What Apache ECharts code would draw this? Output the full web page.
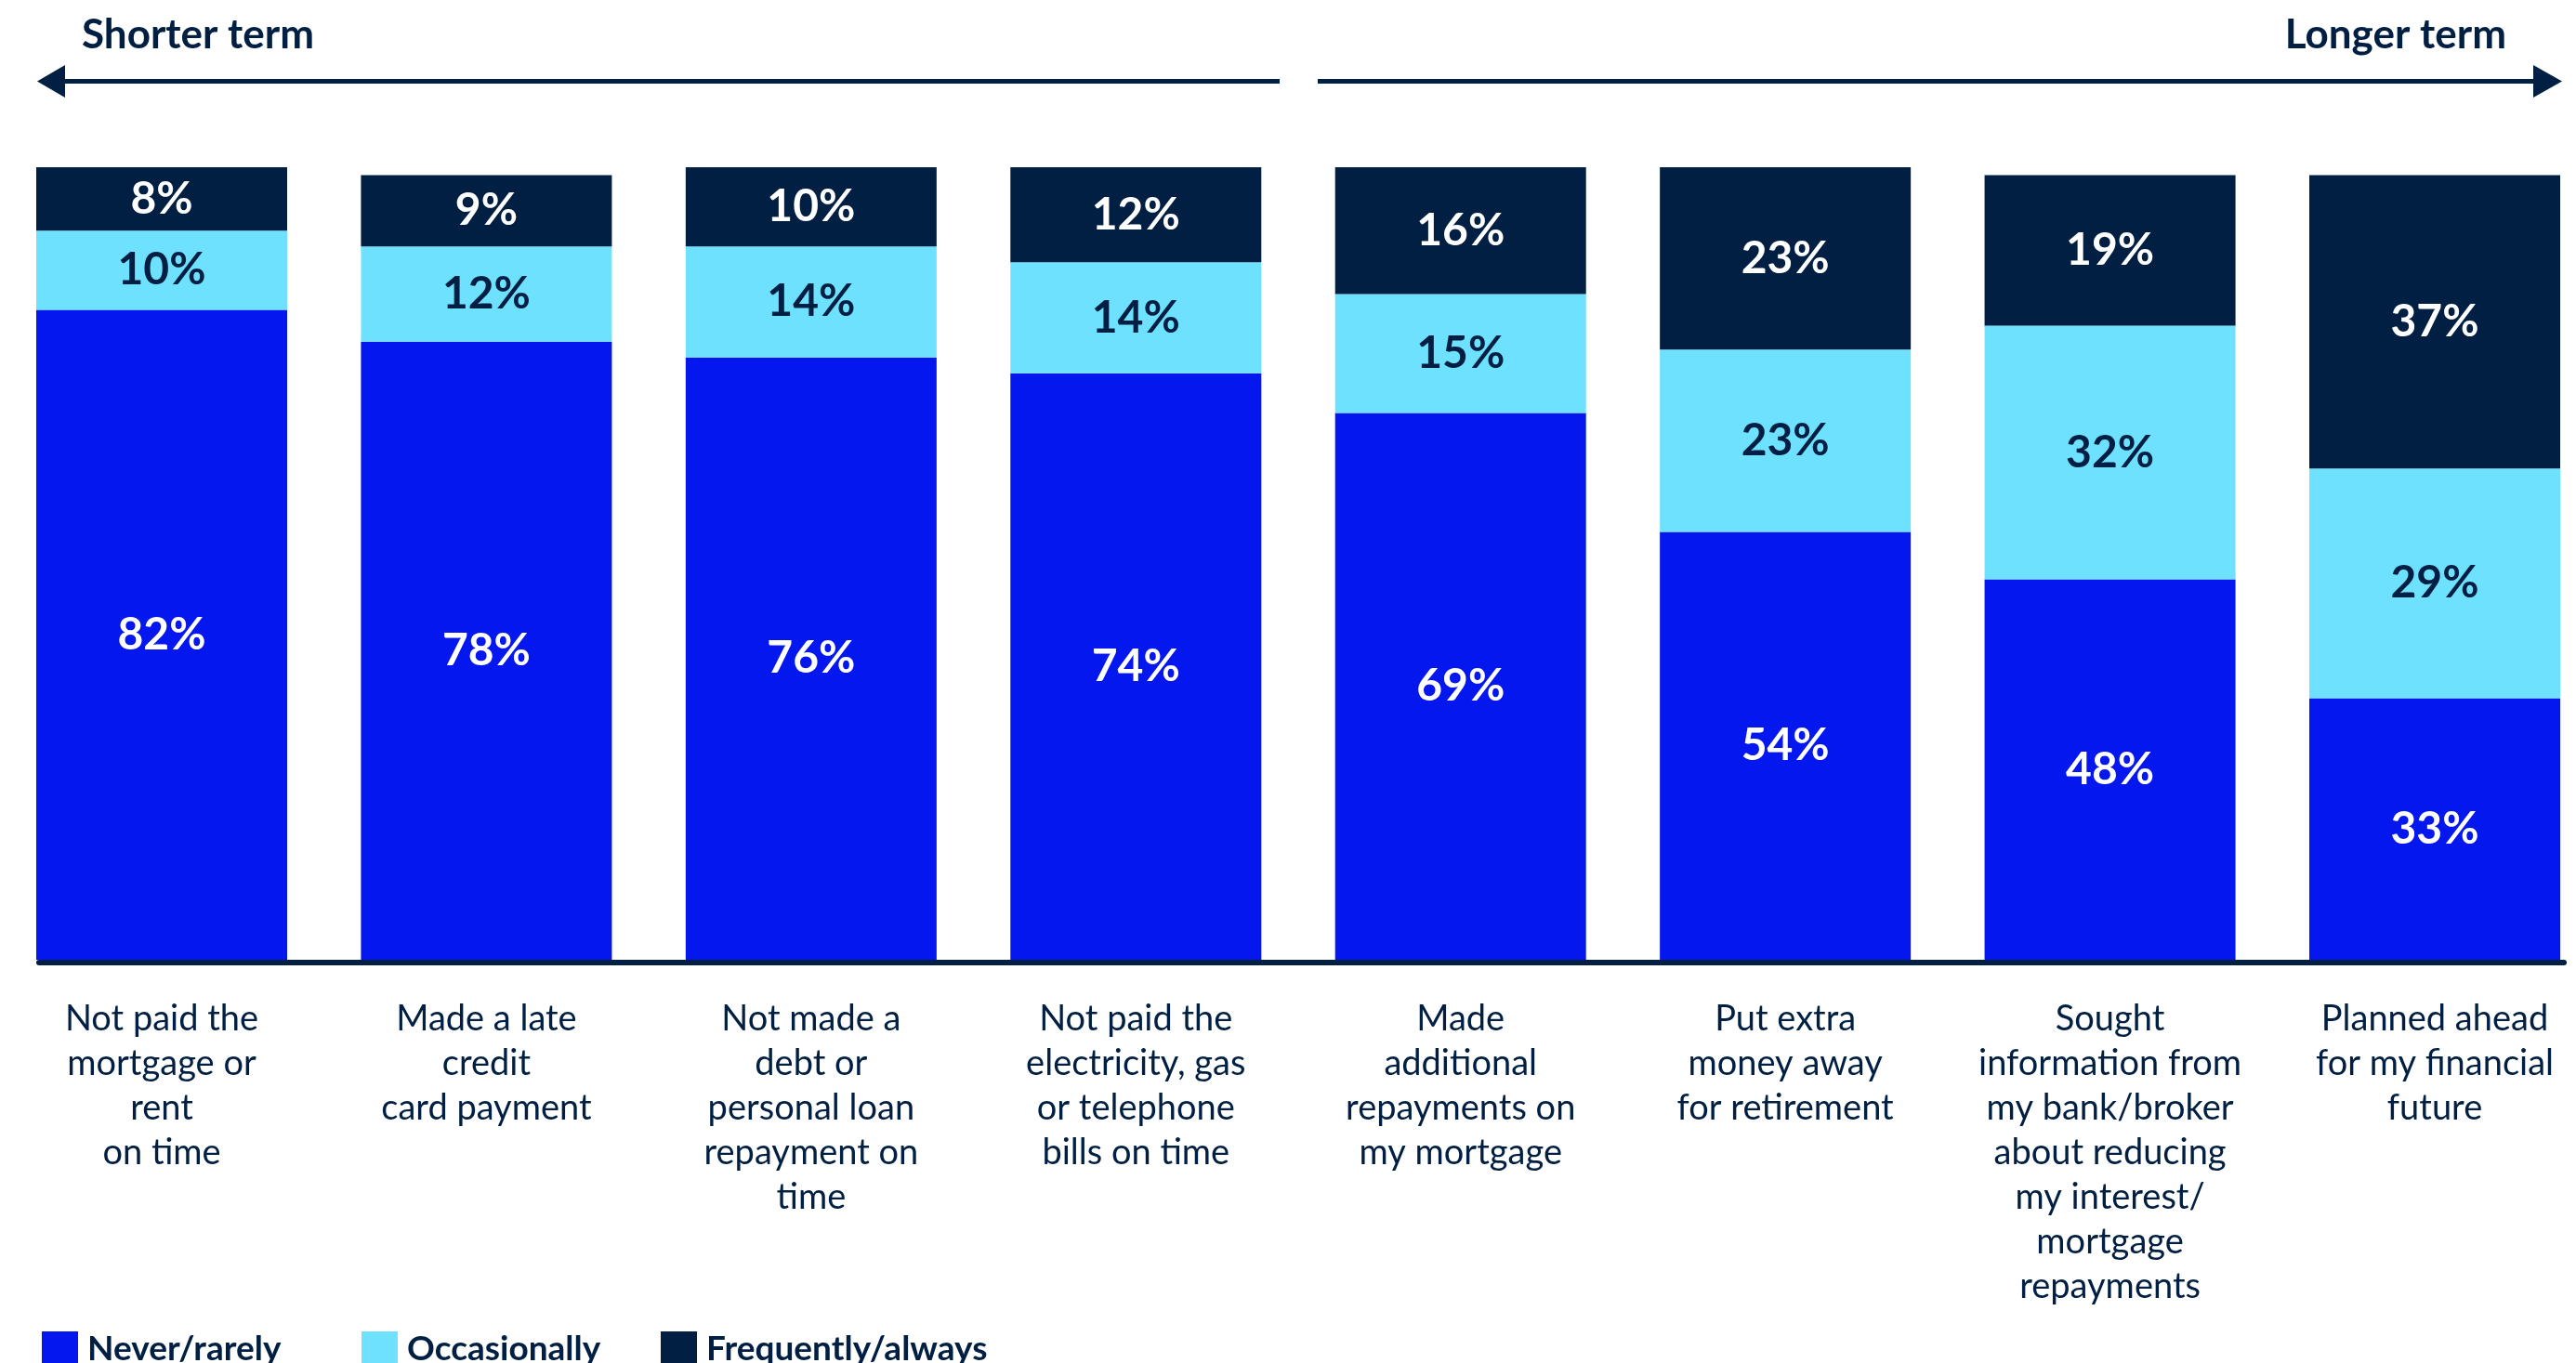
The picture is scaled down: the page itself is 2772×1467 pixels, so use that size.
<!DOCTYPE html>
<html>
<head>
<meta charset="utf-8">
<script src="https://cdn.jsdelivr.net/npm/echarts@6/dist/echarts.min.js"></script>
<style>
html,body{margin:0;padding:0;background:#fff;}
#chart{width:2772px;height:1467px;}
</style>
</head>
<body>
<div id="chart"></div>
<script>
const categories = [
  "Not paid the\nmortgage or\nrent\non time",
  "Made a late\ncredit\ncard payment",
  "Not made a\ndebt or\npersonal loan\nrepayment on\ntime",
  "Not paid the\nelectricity, gas\nor telephone\nbills on time",
  "Made\nadditional\nrepayments on\nmy mortgage",
  "Put extra\nmoney away\nfor retirement",
  "Sought\ninformation from\nmy bank/broker\nabout reducing\nmy interest/\nmortgage\nrepayments",
  "Planned ahead\nfor my financial\nfuture"
];
const neverRarely = [82, 78, 76, 74, 69, 54, 48, 33];
const occasionally = [10, 12, 14, 14, 15, 23, 32, 29];
const frequentlyAlways = [8, 9, 10, 12, 16, 23, 19, 37];
const seriesNames = ["Never/rarely", "Occasionally", "Frequently/always"];
const directionLabels = ["Shorter term", "Longer term"];

const BLUE = '#0317EE', LIGHT = '#6DE1FE', NAVY = '#001F42';
const FONT = 'Lato';

const chart = echarts.init(document.getElementById('chart'), null, {renderer: 'canvas'});

function mkSeries(name, data, color, labelColor) {
  return {
    name: name,
    type: 'bar',
    stack: 'total',
    data: data,
    barWidth: 270,
    itemStyle: {color: color},
    emphasis: {disabled: true},
    label: {
      show: true,
      position: 'inside',
      formatter: '{c}%',
      color: labelColor,
      fontFamily: FONT,
      fontSize: 48,
      fontWeight: 'bold'
    }
  };
}

function mkLegend(name, left) {
  return {
    data: [name],
    left: left,
    top: 1428,
    itemWidth: 39,
    itemHeight: 39,
    icon: 'rect',
    selectedMode: false,
    textStyle: {
      color: NAVY,
      fontFamily: FONT,
      fontSize: 37,
      fontWeight: 'bold',
      padding: [0, 0, 0, 5]
    }
  };
}

const option = {
  backgroundColor: '#ffffff',
  animation: false,
  grid: {left: 174, width: 2446, top: 180, height: 853, containLabel: false},
  xAxis: {
    type: 'category',
    data: categories,
    boundaryGap: false,
    axisLine: {show: false},
    axisTick: {show: false},
    axisLabel: {
      interval: 0,
      margin: 40,
      color: NAVY,
      fontFamily: FONT,
      fontSize: 38,
      lineHeight: 48,
      align: 'center'
    }
  },
  yAxis: {
    type: 'value',
    min: 0,
    max: 100,
    show: false,
    splitLine: {show: false}
  },
  legend: [
    mkLegend(seriesNames[0], 40),
    mkLegend(seriesNames[1], 384),
    mkLegend(seriesNames[2], 706)
  ],
  series: [
    mkSeries(seriesNames[0], neverRarely, BLUE, '#ffffff'),
    mkSeries(seriesNames[1], occasionally, LIGHT, NAVY),
    mkSeries(seriesNames[2], frequentlyAlways, NAVY, '#ffffff')
  ],
  graphic: [
    {type: 'line', shape: {x1: 42, y1: 1036, x2: 2759, y2: 1036}, style: {stroke: NAVY, lineWidth: 6, lineCap: 'round'}, z: 10},
    {type: 'line', shape: {x1: 62, y1: 87.5, x2: 1377, y2: 87.5}, style: {stroke: NAVY, lineWidth: 5}},
    {type: 'polygon', shape: {points: [[40, 87.5], [70, 70], [70, 105]]}, style: {fill: NAVY}},
    {type: 'line', shape: {x1: 1418, y1: 87.5, x2: 2734, y2: 87.5}, style: {stroke: NAVY, lineWidth: 5}},
    {type: 'polygon', shape: {points: [[2757, 87.5], [2726, 70], [2726, 105]]}, style: {fill: NAVY}},
    {type: 'text', left: 88, top: 16, style: {text: directionLabels[0], fill: NAVY, font: 'bold 44px Lato'}},
    {type: 'text', right: 2772 - 2697, top: 16, style: {text: directionLabels[1], fill: NAVY, font: 'bold 44px Lato', textAlign: 'right'}}
  ]
};
chart.setOption(option);
</script>
</body>
</html>
